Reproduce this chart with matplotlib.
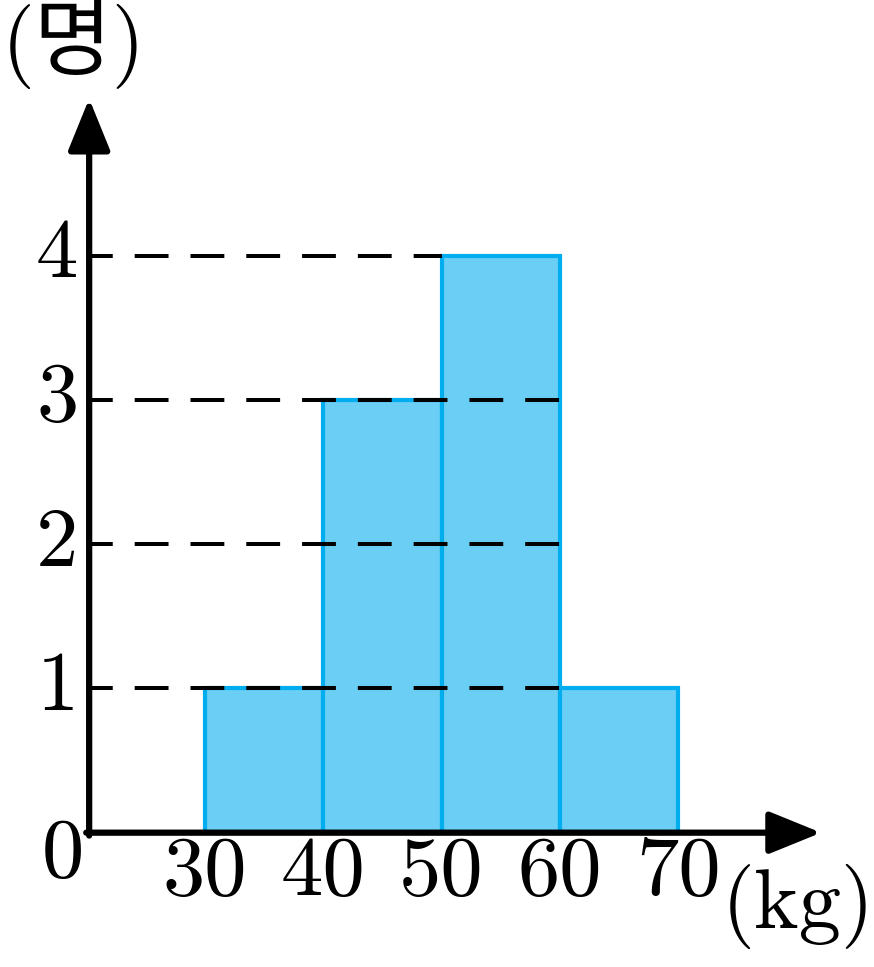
import matplotlib.pyplot as plt
import numpy as np

# 계급 (kg) 과 도수 (명)
bin_edges = [30, 40, 50, 60, 70]
counts = [1, 3, 4, 1]
y_ticks = [1, 2, 3, 4]
x_labels = ['30', '40', '50', '60', '70']

fill_color = '#6BCEF5'
edge_color = '#00AEEF'
tick_font = 'cmr10'

fig = plt.figure(figsize=(8.74, 9.67), dpi=100)
ax = fig.add_axes([0, 0, 1, 1])
ax.set_xlim(12.66, 86.57)
ax.set_ylim(-0.9314, 5.774)
ax.axis('off')

# 히스토그램 막대
widths = np.diff(bin_edges)
ax.bar(bin_edges[:-1], counts, width=widths, align='edge',
       color=fill_color, edgecolor=edge_color, linewidth=3, zorder=2)

# 점선 : 축에서 가장 높은 막대까지
x0 = 20.2
imax = int(np.argmax(counts))
for v in y_ticks:
    right = bin_edges[imax + 1] if v < counts[imax] else bin_edges[imax]
    ax.plot([x0, right], [v, v], color='black', lw=2.9,
            linestyle=(2.5, (8.4, 5.45)), zorder=3)

# 축 화살표
style = '-|>,head_length=3.2,head_width=1.3'
ax.annotate('', xy=(82.1, 0), xytext=(x0 - 0.25, 0),
            arrowprops=dict(arrowstyle=style, lw=4.5, color='black',
                            shrinkA=0, shrinkB=0), zorder=4)
ax.annotate('', xy=(x0, 5.09), xytext=(x0, -0.02),
            arrowprops=dict(arrowstyle=style, lw=4.5, color='black',
                            shrinkA=0, shrinkB=0), zorder=4)

# 눈금 글자
fs = 61
for v in y_ticks:
    ax.text(x0 - 0.9, v, str(v), ha='right', va='center',
            fontsize=fs, family=tick_font)
ax.text(18.0, -0.16, '0', ha='center', va='center',
        fontsize=fs, family=tick_font)
for e, lab in zip(bin_edges, x_labels):
    ax.text(e, -0.28, lab, ha='center', va='center',
            fontsize=fs, family=tick_font)

# 단위
ax.text(18.9, 5.47, '(명)', ha='center', va='center', fontsize=fs,
        family=['cmr10', 'Noto Sans CJK KR'])
ax.text(80.2, -0.51, '(kg)', ha='center', va='center', fontsize=fs,
        family=tick_font)

fig.savefig('out.png', dpi=100)
